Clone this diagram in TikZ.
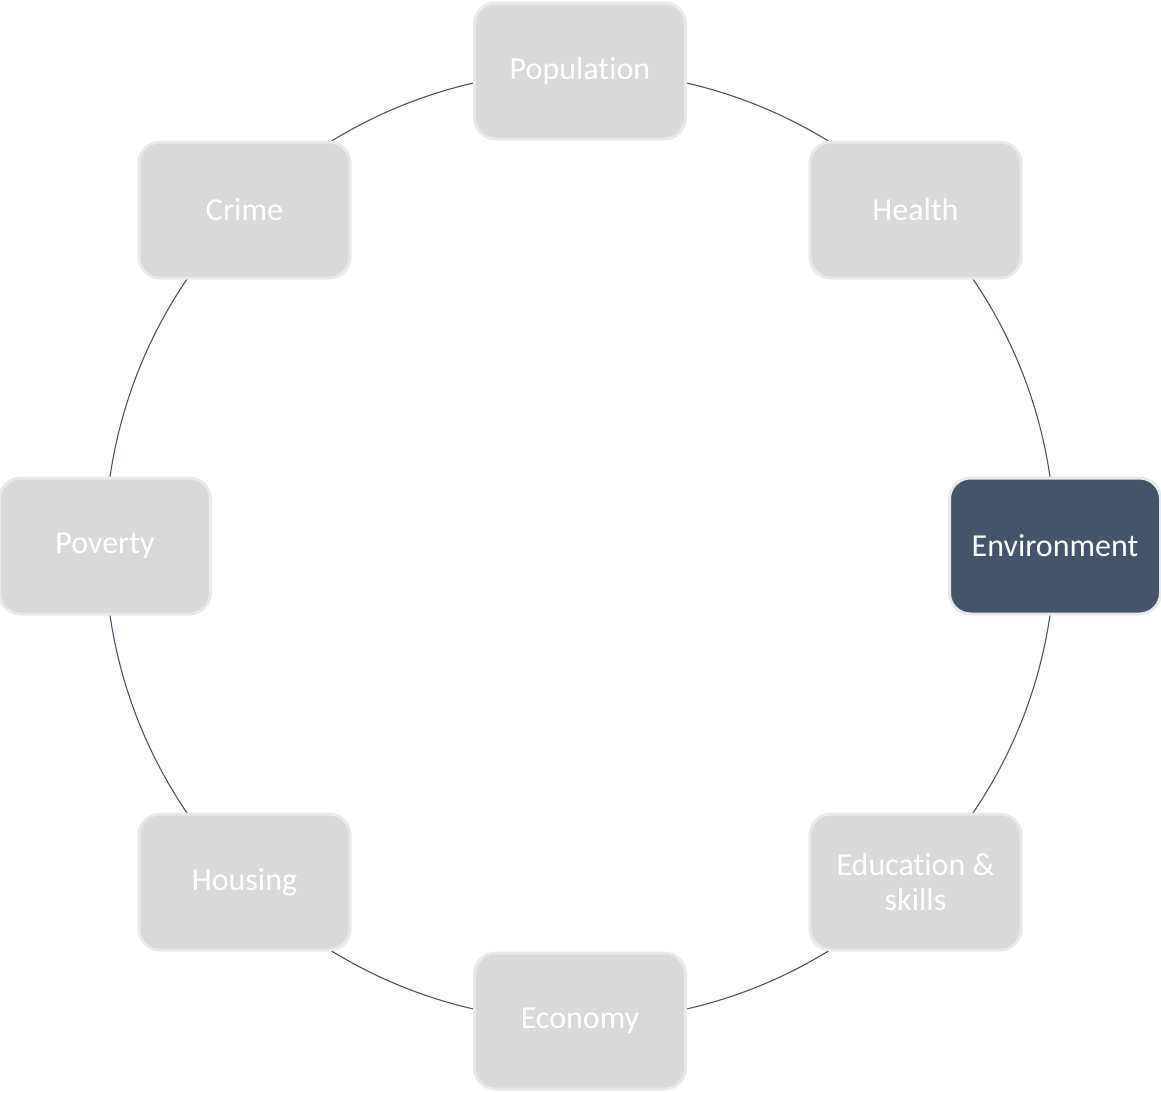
\documentclass[tikz,border=0pt]{standalone}
\usepackage{fontspec}
\setmainfont[Ligatures={NoCommon}]{Carlito}
\definecolor{boxgray}{HTML}{D9D9D9}
\definecolor{boxedge}{HTML}{E9E9E9}
\definecolor{navy}{HTML}{44546A}
\begin{document}
\begin{tikzpicture}[x=1pt,y=-1pt,
  item/.style={draw=boxedge, line width=3pt, fill=boxgray, rounded corners=21pt,
    minimum width=211pt, minimum height=136pt, text=white, align=center,
    font=\fontsize{32}{35}\selectfont, inner sep=0pt},
  focus/.style={item, fill=navy},
  ring/.style={draw=navy, line width=1.1pt}]
\useasboundingbox (0,0) rectangle (1161,1092);
\coordinate (ctr) at (580,546);
\draw[ring] (ctr) circle[radius=475];
\node[item]  (pop)  at (580,71)    {Population};
\node[item]  (hea)  at (915.5,210) {Health};
\node[focus] (env)  at (1055,546)  {Environment};
\node[item]  (edu)  at (915.5,882) {Education \&\\skills};
\node[item]  (eco)  at (580,1021)  {Economy};
\node[item]  (hou)  at (244.5,882) {Housing};
\node[item]  (pov)  at (105,546)   {Poverty};
\node[item]  (cri)  at (244.5,210) {Crime};
\end{tikzpicture}
\end{document}
